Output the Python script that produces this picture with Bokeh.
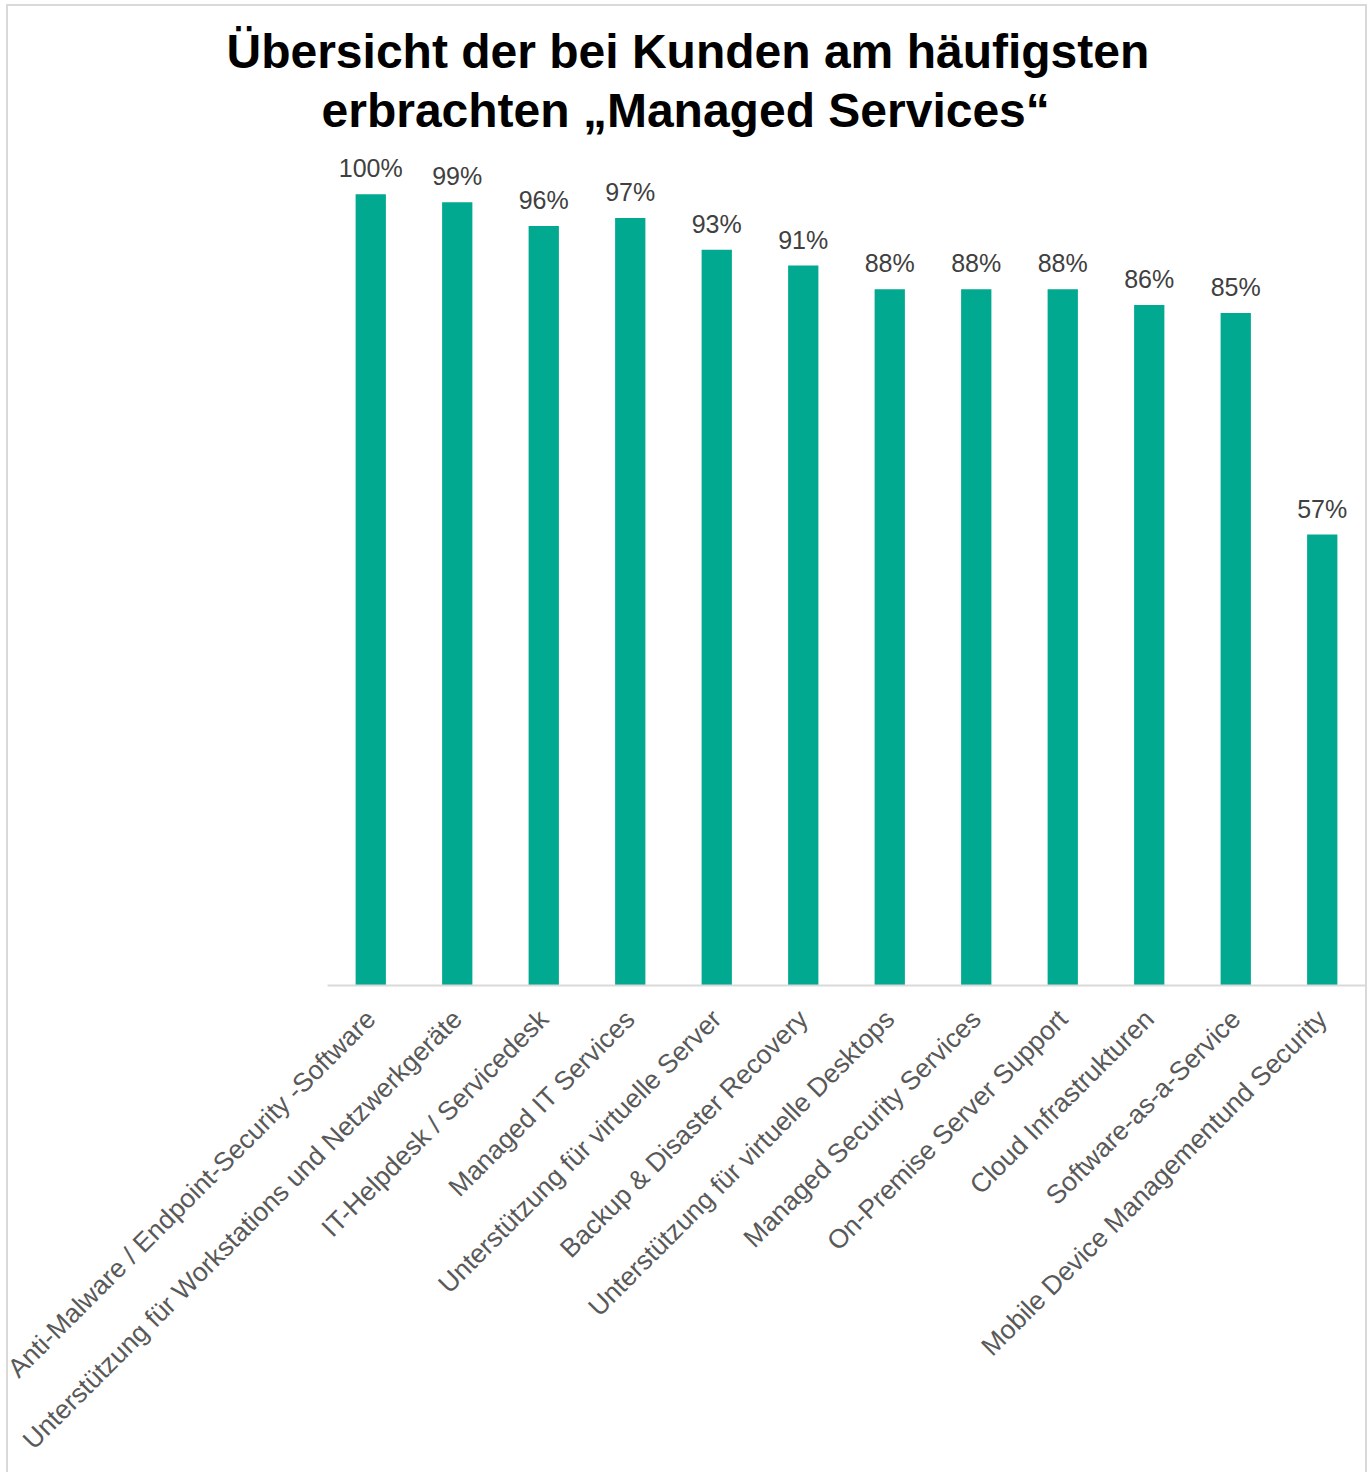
import math
from bokeh.plotting import figure
from bokeh.models import ColumnDataSource, LabelSet, Title, FactorRange, Range1d
from bokeh.core.properties import value
from bokeh.embed import file_html
from bokeh.resources import INLINE

categories = [
    "Anti-Malware / Endpoint-Security -Software",
    "Unterstützung für Workstations und Netzwerkgeräte",
    "IT-Helpdesk / Servicedesk",
    "Managed IT Services",
    "Unterstützung für virtuelle Server",
    "Backup & Disaster Recovery",
    "Unterstützung für virtuelle Desktops",
    "Managed Security Services",
    "On-Premise Server Support",
    "Cloud Infrastrukturen",
    "Software-as-a-Service",
    "Mobile Device Managementund Security",
]
values = [100, 99, 96, 97, 93, 91, 88, 88, 88, 86, 85, 57]
value_labels = [f"{v}%" for v in values]

title_line1 = "Übersicht der bei Kunden am häufigsten"
title_line2 = "erbrachten „Managed Services“"

FONT = "Liberation Sans"
BAR_COLOR = "#00A98F"
FRAME_LINE = "#d9d9d9"

source = ColumnDataSource(dict(cat=categories, val=values, lab=value_labels))

p = figure(
    width=1367, height=1472,
    x_range=FactorRange(*categories),
    y_range=Range1d(0, 106.8),
    output_backend="svg", toolbar_location=None,
    min_border_left=327, min_border_right=2,
    min_border_top=140, min_border_bottom=487,
)
# thin light-grey chart-area frame (left, top, right) painted behind a transparent canvas
p.styles = {
    "background": (
        f"linear-gradient({FRAME_LINE}, {FRAME_LINE}) 6px 4px / 2px calc(100% - 4px) no-repeat, "
        f"linear-gradient({FRAME_LINE}, {FRAME_LINE}) 6px 4px / calc(100% - 6px) 2px no-repeat, "
        f"linear-gradient({FRAME_LINE}, {FRAME_LINE}) 1365px 4px / 2px calc(100% - 4px) no-repeat, "
        "#ffffff"
    ),
}
p.outline_line_color = None
p.background_fill_color = None
p.border_fill_color = None

p.vbar(x="cat", top="val", width=0.35, source=source, color=BAR_COLOR, line_color=None)

labels = LabelSet(
    x="cat", y="val", text="lab", source=source,
    text_align="center", text_baseline="alphabetic", y_offset=17,
    text_font=value(FONT), text_font_size=value("25px"), text_color=value("#404040"),
)
p.add_layout(labels)

p.xgrid.grid_line_color = None
p.ygrid.grid_line_color = None
p.yaxis.visible = False
ax = p.xaxis[0]
ax.axis_line_color = "#D9D9D9"
ax.axis_line_width = 2
ax.major_tick_line_color = None
ax.minor_tick_line_color = None
ax.major_label_orientation = math.pi / 4
ax.major_label_text_font = FONT
ax.major_label_text_font_size = "26.5px"
ax.major_label_text_color = "#595959"
ax.major_label_standoff = 23

t2 = Title(text=title_line2, align="left", text_font=FONT, text_font_size="48px",
           text_font_style="bold", text_color="black", standoff=8, offset=-6)
t1 = Title(text=title_line1, align="left", text_font=FONT, text_font_size="48px",
           text_font_style="bold", text_color="black", standoff=0, offset=-101)
p.add_layout(t2, "above")
p.add_layout(t1, "above")

open("out.html", "w").write(file_html(p, INLINE))
